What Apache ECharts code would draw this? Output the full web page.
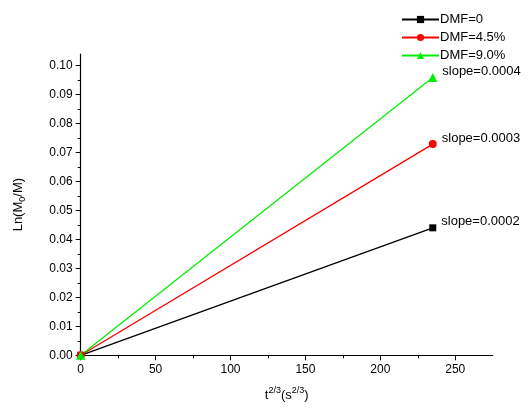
<!DOCTYPE html>
<html><head><meta charset="utf-8">
<script src="https://cdn.jsdelivr.net/npm/echarts@6/dist/echarts.min.js"></script>
<style>html,body{margin:0;padding:0;background:#fff}#c{width:532px;height:409px}</style>
</head><body><div id="c"></div>
<script>
var seriesNames = ['DMF=0', 'DMF=4.5%', 'DMF=9.0%'];
var xValues = [0, 235];
var yBlack = [0, 0.044];
var yRed = [0, 0.0729];
var yGreen = [0, 0.0959];
var slopeLabels = ['slope=0.0002', 'slope=0.0003', 'slope=0.0004'];
var xTicks = [0, 50, 100, 150, 200, 250];
var yTicks = [0, 0.01, 0.02, 0.03, 0.04, 0.05, 0.06, 0.07, 0.08, 0.09, 0.10];

var colors = ['#000000', '#ff0000', '#00ee00'];
var symbols = ['rect', 'circle', 'triangle'];
var sizes = [7, 8, 9];
var allY = [yBlack, yRed, yGreen];

var font = 'Liberation Sans, Arial, sans-serif';
var chart = echarts.init(document.getElementById('c'), null, {renderer: 'canvas'});
var series = seriesNames.map(function (name, i) {
  var data = xValues.map(function (x, j) {
    var item = {value: [x, allY[i][j]]};
    if (j === xValues.length - 1) {
      item.label = {
        show: true, position: 'right', offset: [0, -6],
        formatter: slopeLabels[i], color: '#000', fontSize: 13, fontFamily: font
      };
    }
    return item;
  });
  return {
    name: name, type: 'line', data: data,
    symbol: symbols[i], symbolSize: sizes[i], showAllSymbol: true,
    lineStyle: {color: colors[i], width: 1.3},
    itemStyle: {color: colors[i]},
    emphasis: {disabled: true}, animation: false
  };
});

chart.setOption({
  animation: false,
  grid: {left: 80.7, right: 39.3, top: 54, bottom: 53.7, containLabel: false},
  legend: {
    orient: 'vertical', left: 396, top: 8, itemWidth: 37, itemHeight: 9, itemGap: 5,
    textStyle: {fontSize: 13, fontFamily: font, color: '#000', padding: [0, 0, 0, -4]},
    data: seriesNames
  },
  xAxis: {
    type: 'value', min: 0, max: 275, interval: 50,
    name: '{b|t}{sup|2/3}{b|(s}{sup|2/3}{b|)}', nameLocation: 'middle', nameGap: 31,
    nameTextStyle: {
      rich: {
        b: {fontSize: 13, fontFamily: font, color: '#000', verticalAlign: 'bottom', lineHeight: 16},
        sup: {fontSize: 9, fontFamily: font, color: '#000', verticalAlign: 'top', lineHeight: 16, padding: [0, 0, 8, 0]}
      }
    },
    axisLine: {onZero: false, lineStyle: {color: '#000', width: 1.2}},
    axisTick: {show: true, inside: false, length: 5, lineStyle: {color: '#000'}, customValues: xTicks},
    minorTick: {show: true, splitNumber: 2, length: 3, lineStyle: {color: '#000'}},
    axisLabel: {color: '#000', fontSize: 12, fontFamily: font, margin: 8, customValues: xTicks},
    splitLine: {show: false}
  },
  yAxis: {
    type: 'value', min: 0, max: 0.104, interval: 0.01,
    name: '{b|Ln(M}{sub|0}{b|/M)}', nameLocation: 'middle', nameGap: 54, nameRotate: 90,
    nameTextStyle: {
      rich: {
        b: {fontSize: 13, fontFamily: font, color: '#000', lineHeight: 16},
        sub: {fontSize: 9, fontFamily: font, color: '#000', lineHeight: 16, padding: [8, 0, 0, 0]}
      }
    },
    axisLine: {onZero: false, lineStyle: {color: '#000', width: 1.2}},
    axisTick: {show: true, inside: false, length: 5, lineStyle: {color: '#000'}, customValues: yTicks},
    minorTick: {show: true, splitNumber: 2, length: 3, lineStyle: {color: '#000'}},
    axisLabel: {color: '#000', fontSize: 12, fontFamily: font, margin: 8, customValues: yTicks,
      formatter: function (v) { return v.toFixed(2); }},
    splitLine: {show: false}
  },
  series: series
});
</script></body></html>
